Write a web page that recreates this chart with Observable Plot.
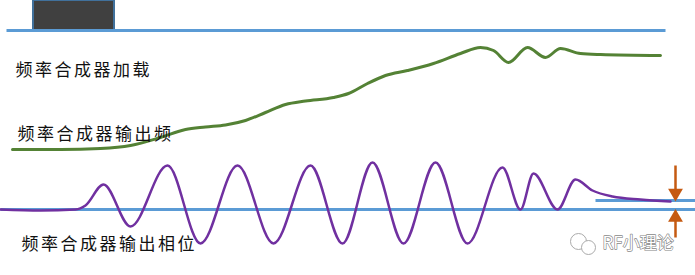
<!DOCTYPE html>
<html>
<head>
<meta charset="utf-8">
<script src="https://cdn.jsdelivr.net/npm/d3@7"></script>
<script src="https://cdn.jsdelivr.net/npm/@observablehq/plot@0.6"></script>
<style>
  html, body { margin: 0; padding: 0; background: #fff; }
  #chart svg { display: block; }
</style>
</head>
<body>
<div id="chart"></div>
<script>
// Schematic time axis (0..695) and vertical level (0 = top, 275 = bottom)
const freqT   = [12, 60, 100, 130, 160, 185, 205, 225, 245, 265, 285, 305, 333, 348, 367, 385, 407, 433, 460, 480, 493, 508, 527, 545, 560, 580, 600, 660];
const freqV   = [149, 149, 148, 145, 137, 129, 126.5, 124.5, 120, 112, 104, 100.5, 97, 93, 83, 75, 70, 63, 53, 47, 50, 62, 47, 57, 48, 53, 54, 55];

const phaseT  = [0, 40, 75, 85, 103, 130, 167, 200, 237, 273, 310, 342, 372, 403, 435, 467, 502, 520, 533, 557, 575, 592, 612, 640, 670];
const phaseV  = [209, 210, 209, 205, 184, 226, 165, 243, 165, 243, 165, 243, 162, 243, 162, 243, 167, 209, 173, 209, 179, 190, 196, 199, 201];

const loadT   = [33, 114];          // load pulse start / end
const loadV   = [0, 30];

const refLineX1 = [6, 0, 595];
const refLineX2 = [665, 695, 695];
const refLineY  = [30, 209, 200];

const arrowX    = [675, 675];
const arrowFrom = [165, 237];
const arrowTo   = [190, 219];
const arrowTipY = [192.5, 217];
const arrowRot  = [180, 0];

const labels  = ["频率合成器加载", "频率合成器输出频", "频率合成器输出相位"];
const labelX  = [15, 17, 21];
const labelY  = [70, 134, 244];

const watermark = "RF小理论";

const freq  = freqT.map((t, i) => ({t, v: freqV[i]}));
const phase = phaseT.map((t, i) => ({t, v: phaseV[i]}));
const refs  = refLineY.map((y, i) => ({x1: refLineX1[i], x2: refLineX2[i], y}));
const arrows = arrowX.map((x, i) => ({x, y1: arrowFrom[i], y2: arrowTo[i], tip: arrowTipY[i], rot: arrowRot[i]}));
const texts = labels.map((s, i) => ({s, x: labelX[i], y: labelY[i]}));

const chart = Plot.plot({
  width: 695,
  height: 275,
  margin: 0,
  x: {domain: [0, 695], range: [0, 695], axis: null},
  y: {domain: [0, 275], range: [0, 275], axis: null},
  style: {background: "#fff"},
  marks: [
    Plot.rect([{x1: loadT[0], x2: loadT[1], y1: loadV[0], y2: loadV[1]}],
      {x1: "x1", x2: "x2", y1: "y1", y2: "y2", fill: "#404040", stroke: "#41719c", strokeWidth: 2}),
    Plot.link(refs, {x1: "x1", x2: "x2", y1: "y", y2: "y", stroke: "#5b9bd5", strokeWidth: 3}),
    Plot.line(freq, {x: "t", y: "v", stroke: "#548235", strokeWidth: 3, curve: "monotone-x"}),
    Plot.line(phase, {x: "t", y: "v", stroke: "#7030a0", strokeWidth: 2.5, curve: "monotone-x"}),
    Plot.link(arrows, {x1: "x", x2: "x", y1: "y1", y2: "y2", stroke: "#c55a11", strokeWidth: 2.5}),
    Plot.dot(arrows, {x: "x", y: "tip", symbol: "triangle", r: 5.5, fill: "#c55a11", stroke: "none", rotate: "rot"}),
    Plot.text(texts, {x: "x", y: "y", text: "s", textAnchor: "start", fill: "#111",
      fontSize: 17, fontFamily: "'Noto Sans CJK SC', sans-serif", fontWeight: 400}),
    // watermark (WeChat-style bubbles + name)
    Plot.dot([{x: 578, y: 241}], {x: "x", y: "y", r: 8, fill: "#fff", stroke: "#aaa", strokeWidth: 1}),
    Plot.dot([{x: 588, y: 247}], {x: "x", y: "y", r: 7, fill: "#fff", stroke: "#aaa", strokeWidth: 1}),
    Plot.text([watermark], {x: 602, y: 243, text: d => d, textAnchor: "start", fill: "#fff", stroke: "#888",
      strokeWidth: 1.3, fontSize: 17, fontFamily: "'Noto Sans CJK SC', sans-serif"})
  ]
});
// widen letter spacing of the labels
d3.select(chart).selectAll("text").filter(function() { return labels.includes(this.textContent); })
  .style("letter-spacing", "2.5px");
document.getElementById("chart").append(chart);
</script>
</body>
</html>
